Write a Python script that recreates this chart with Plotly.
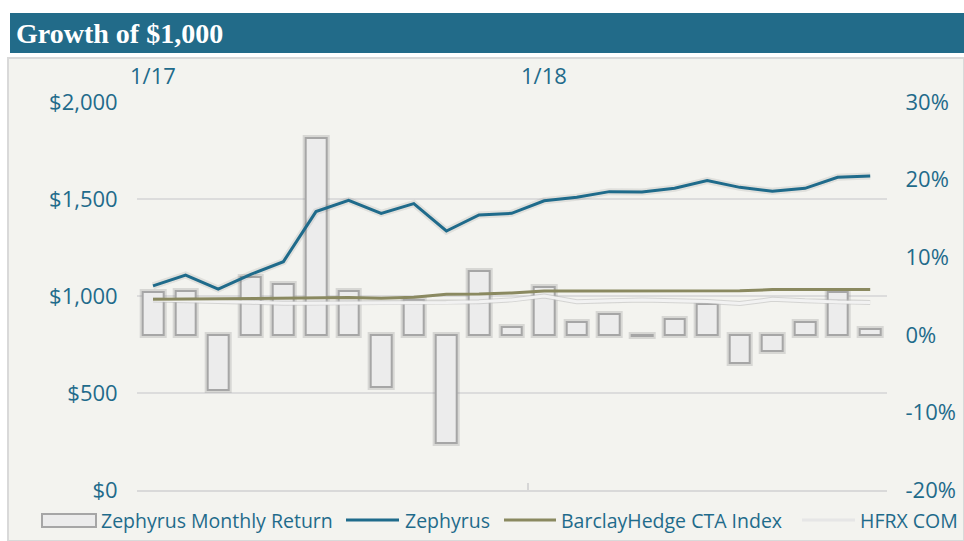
import plotly.graph_objects as go

# Monthly data, January 2017 through November 2018
months = ["1/17", "2/17", "3/17", "4/17", "5/17", "6/17", "7/17", "8/17", "9/17",
          "10/17", "11/17", "12/17", "1/18", "2/18", "3/18", "4/18", "5/18", "6/18",
          "7/18", "8/18", "9/18", "10/18", "11/18"]

# Zephyrus monthly return (%)
monthly_return = [5.5, 5.6, -7.1, 7.4, 6.6, 25.4, 5.7, -6.7, 4.5, -14.0, 8.2, 1.0,
                  6.2, 1.7, 2.7, -0.2, 2.0, 4.0, -3.6, -2.1, 1.6, 5.5, 0.8]

# Growth of $1,000
zephyrus = [1052, 1108, 1036, 1112, 1177, 1435, 1493, 1426, 1476, 1335, 1418, 1426,
            1491, 1509, 1538, 1536, 1555, 1595, 1560, 1540, 1555, 1612, 1619]
barclay_cta = [983, 985, 987, 988, 989, 990, 992, 989, 993, 1009, 1010, 1016,
               1026, 1026, 1026, 1026, 1026, 1026, 1027, 1033, 1034, 1034, 1034]
hfrx_com = [979, 977, 972, 968, 962, 963, 964, 962, 965, 966, 971, 980,
            1000, 970, 976, 979, 976, 972, 961, 983, 975, 969, 967]

dollar_ticks = [0, 500, 1000, 1500, 2000]
dollar_labels = ["$0", "$500", "$1,000", "$1,500", "$2,000"]
pct_ticks = [-20, -10, 0, 10, 20, 30]
pct_labels = ["-20%", "-10%", "0%", "10%", "20%", "30%"]
year_marks = ["1/17", "1/18"]

W, H = 964, 541
TEAL = "#1f6b8b"
OLIVE = "#8a8960"
BG = "#f3f3ef"
FONT = "Open Sans"
TICK_SIZE = 22

x_idx = list(range(len(months)))

fig = go.Figure()

# soft halo behind the bars
fig.add_trace(go.Bar(
    x=x_idx, y=monthly_return, width=0.63,
    marker=dict(color="rgba(0,0,0,0)", line=dict(color="rgba(120,120,120,0.22)", width=6)),
    xaxis="x", yaxis="y", showlegend=False, hoverinfo="skip",
))
# monthly return bars on the right-hand (percent) axis
fig.add_trace(go.Bar(
    x=x_idx, y=monthly_return, width=0.63,
    marker=dict(color="#ececec", line=dict(color="#a6a6a6", width=2)),
    xaxis="x", yaxis="y", showlegend=False, hoverinfo="skip",
))

# growth lines on the left-hand (dollar) axis
fig.add_trace(go.Scatter(
    x=x_idx, y=hfrx_com, mode="lines",
    line=dict(color="rgba(185,185,185,0.55)", width=5),
    xaxis="x", yaxis="y2", showlegend=False, hoverinfo="skip",
))
fig.add_trace(go.Scatter(
    x=x_idx, y=hfrx_com, mode="lines",
    line=dict(color="#f2f2f2", width=3),
    xaxis="x", yaxis="y2", showlegend=False,
))
fig.add_trace(go.Scatter(
    x=x_idx, y=barclay_cta, mode="lines",
    line=dict(color=OLIVE, width=3),
    xaxis="x", yaxis="y2", showlegend=False,
))
fig.add_trace(go.Scatter(
    x=x_idx, y=zephyrus, mode="lines",
    line=dict(color="rgba(60,60,60,0.10)", width=7),
    xaxis="x", yaxis="y2", showlegend=False, hoverinfo="skip",
))
fig.add_trace(go.Scatter(
    x=x_idx, y=zephyrus, mode="lines",
    line=dict(color=TEAL, width=3),
    xaxis="x", yaxis="y2", showlegend=False,
))

x0, x1 = 136.7 / W, 886.5 / W
y0, y1 = (H - 490) / H, (H - 102) / H


def py(v):
    return (H - v) / H


def px(v):
    return v / W


shapes = [
    # header bar
    dict(type="rect", xref="paper", yref="paper", x0=px(10), x1=1.0, y0=py(53), y1=py(13),
         fillcolor="#226b89", line=dict(width=0), layer="below"),
    # chart panel
    dict(type="rect", xref="paper", yref="paper", x0=px(8), x1=1.0, y0=0.0, y1=py(58),
         fillcolor=BG, line=dict(color="#d9d9d9", width=2), layer="below"),
]

annotations = [
    dict(text="Growth of $1,000", xref="paper", yref="paper", x=px(14), y=py(33),
         xanchor="left", yanchor="middle", showarrow=False,
         font=dict(family="Liberation Serif", size=28, color="white", weight="bold")),
]
for m in year_marks:
    annotations.append(dict(text=m, xref="x", yref="paper", x=months.index(m), y=py(75),
                            xanchor="center", yanchor="middle", showarrow=False,
                            font=dict(family=FONT, size=TICK_SIZE, color=TEAL)))

# legend row
leg_y = py(520)
legend_items = [
    ("bar", "Zephyrus Monthly Return", 42, 96, 99),
    (TEAL, "Zephyrus", 346, 399, 403),
    (OLIVE, "BarclayHedge CTA Index", 504, 556, 559),
    ("#e6e6e6", "HFRX COM", 802, 855, 858),
]
for kind, label, sx0, sx1, tx in legend_items:
    if kind == "bar":
        shapes.append(dict(type="rect", xref="paper", yref="paper",
                           x0=px(sx0), x1=px(sx1), y0=py(527), y1=py(514),
                           fillcolor="#ececec", line=dict(color="#a6a6a6", width=2)))
    else:
        shapes.append(dict(type="line", xref="paper", yref="paper",
                           x0=px(sx0), x1=px(sx1), y0=leg_y, y1=leg_y,
                           line=dict(color=kind, width=3)))
    annotations.append(dict(text=label, xref="paper", yref="paper", x=px(tx), y=leg_y,
                            xanchor="left", yanchor="middle", showarrow=False,
                            font=dict(family=FONT, size=19.5, color=TEAL)))

fig.update_layout(
    width=W, height=H,
    margin=dict(l=0, r=0, t=0, b=0, autoexpand=False),
    paper_bgcolor="white", plot_bgcolor="rgba(0,0,0,0)",
    shapes=shapes, annotations=annotations,
    barmode="overlay", bargap=0, showlegend=False,
    font=dict(family=FONT, color=TEAL),
    xaxis=dict(domain=[x0, x1], range=[-0.5, len(months) - 0.5],
               tickvals=[months.index(m) - 0.5 for m in year_marks],
               ticks="inside", ticklen=7, tickwidth=2, tickcolor="#d6d6d6",
               showticklabels=False, showgrid=False, zeroline=False,
               showline=True, linecolor="#d9d9d9", linewidth=2),
    yaxis=dict(domain=[y0, y1], side="right", range=[-20, 30],
               tickvals=pct_ticks, ticktext=pct_labels,
               showgrid=False, zeroline=False, showline=False,
               ticklabelstandoff=18, tickfont=dict(family=FONT, size=TICK_SIZE, color=TEAL)),
    yaxis2=dict(domain=[y0, y1], side="left", overlaying="y", range=[0, 2000],
                tickvals=dollar_ticks, ticktext=dollar_labels,
                showgrid=True, gridcolor="#dcdcdc", gridwidth=2, zeroline=False, showline=False,
                ticklabelstandoff=18, tickfont=dict(family=FONT, size=TICK_SIZE, color=TEAL)),
)

fig.write_html("out.html")
